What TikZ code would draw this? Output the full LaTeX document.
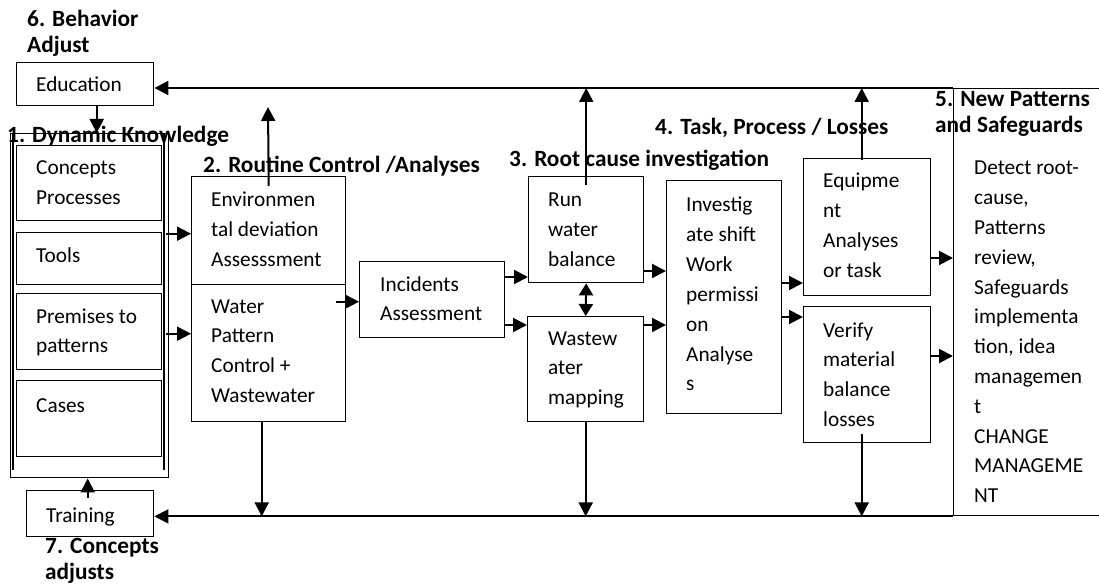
\documentclass[tikz,border=0pt]{standalone}
\usepackage{fontspec}
\setmainfont{Carlito}
\usetikzlibrary{arrows.meta,calc}
\newcommand\mlines[1]{\begin{tabular}[t]{@{}l@{}}#1\end{tabular}}
\tikzset{
 box/.style={draw, line width=1.4pt, inner sep=0pt, anchor=north west},
 txt/.style={inner sep=0pt, anchor=base west, font=\fontsize{21.3}{29.8}\selectfont},
 head/.style={inner sep=0pt, anchor=base west, font=\fontsize{23.3}{26}\selectfont\bfseries},
 arr/.style={line width=2pt, -{Triangle[length=14pt,width=14pt]}},
 arrs/.style={line width=2pt, {Triangle[length=12pt,width=14pt]}-{Triangle[length=12pt,width=14pt]}},
}
\begin{document}
\begin{tikzpicture}[x=1pt,y=-1pt]
\useasboundingbox (0,0) rectangle (1099,585);
% boxes
\node[box, minimum width=137pt, minimum height=43pt] (edu) at (16,62) {};
\node[box, minimum width=158pt, minimum height=344pt] (dk) at (10,133) {};
\draw[line width=1.2pt] (13,133) -- (13,470) (164,133) -- (164,470);
\node[box, minimum width=145pt, minimum height=75pt] (con) at (16,145) {};
\node[box, minimum width=145pt, minimum height=52pt] (tools) at (16,232) {};
\node[box, minimum width=145pt, minimum height=76pt] (prem) at (16,293) {};
\node[box, minimum width=145pt, minimum height=76pt] (cases) at (16,380) {};
\node[box, minimum width=154pt, minimum height=108pt] (env) at (191,176) {};
\node[box, minimum width=154pt, minimum height=137pt] (water) at (191,284) {};
\node[box, minimum width=145pt, minimum height=76pt] (inc) at (359,261) {};
\node[box, minimum width=115pt, minimum height=106pt] (run) at (528,176) {};
\node[box, minimum width=116pt, minimum height=105pt] (ww) at (527,316) {};
\node[box, minimum width=115pt, minimum height=233pt] (inv) at (666,180) {};
\node[box, minimum width=127pt, minimum height=137pt] (eq) at (803,158) {};
\node[box, minimum width=127pt, minimum height=136pt] (ver) at (803,306) {};
\node[box, minimum width=152pt, minimum height=427pt] (np) at (953,88) {};
\node[box, minimum width=127pt, minimum height=46pt] (train) at (26,490) {};
% box texts
\node[txt] (eduT) at (36,92) {Education};
\node[txt] (conT) at (36,175) {\mlines{Concepts\\Processes}};
\node[txt] (toolsT) at (36,262) {Tools};
\node[txt] (premT) at (36,323) {\mlines{Premises to\\patterns}};
\node[txt] (casesT) at (36,412) {Cases};
\node[txt] (envT) at (211,207) {\mlines{Environmen\\tal deviation\\Assesssment}};
\node[txt] (waterT) at (211,313) {\mlines{Water\\Pattern\\Control +\\Wastewater}};
\node[txt] (incT) at (380,291) {\mlines{Incidents\\Assessment}};
\node[txt] (runT) at (548,207) {\mlines{Run\\water\\balance}};
\node[txt] (wwT) at (548,345) {\mlines{Wastew\\ater\\mapping}};
\node[txt] (invT) at (686,212) {\mlines{Investig\\ate shift\\Work\\permissi\\on\\Analyse\\s}};
\node[txt] (eqT) at (823,188) {\mlines{Equipme\\nt\\Analyses\\or task}};
\node[txt] (verT) at (823,337) {\mlines{Verify\\material\\balance\\losses}};
\node[txt] (npT) at (974,175) {\mlines{Detect root-\\cause,\\Patterns\\review,\\Safeguards\\implementa\\tion, idea\\managemen\\t\\CHANGE\\MANAGEME\\NT}};
\node[txt] (trainT) at (46,522) {Training};
% headings
\node[head] (h6) at (27,27) {\mlines{6. Behavior\\Adjust}};
\node[head] (h1) at (7,143) {1. Dynamic Knowledge};
\node[head] (h2) at (203,173) {2. Routine Control /Analyses};
\node[head] (h3) at (509,167) {3. Root cause investigation};
\node[head] (h4) at (655,135) {4. Task, Process / Losses};
\node[head] (h5) at (935,107) {\mlines{5. New Patterns\\and Safeguards}};
\node[head] (h7) at (45,553) {\mlines{7. Concepts\\adjusts}};
% connector points
\coordinate (envtop) at (268,107);
\coordinate (eqx) at ($(eq.north)+(-5.5,2)$);
\coordinate (wx) at ($(water.south)+(-7,0)$);
\coordinate (vx) at ($(ver.south)+(-5.5,-9)$);
\coordinate (ex) at ($(edu.south)+(11.5,0)$);
\coordinate (tx) at ($(train.north)+(-2.5,8)$);
\coordinate (a1) at ($(env.west -| dk.east)+(-3,3)$);
\coordinate (a2) at ($(prem.east -| dk.east)+(-3,2)$);
\coordinate (a3) at ($(inc.west -| water.east)+(-10,2)$);
\coordinate (a4) at ($(inc.north east)+(0,16)$);
\coordinate (a5) at ($(inc.north east)+(0,64)$);
\coordinate (a6) at ($(run.north east)+(0,95)$);
\coordinate (a7) at ($(ww.north east)+(0,9)$);
\coordinate (a8) at ($(inv.north east)+(0,103)$);
\coordinate (a9) at ($(inv.north east)+(0,137)$);
\coordinate (a10) at ($(eq.north east)+(0,100)$);
\coordinate (a11) at ($(ver.north east)+(0,50)$);
% connectors
\draw[arr] (np.north west) -- (np.north west -| edu.east);
\draw[arr] (np.south west) -- (np.south west -| train.east);
\draw[arr] ($(env.north)+(0,10)$) -- (envtop);
\draw[arr] ($(run.north)+(0,9)$) -- (run.north |- np.north west);
\draw[arr] (eqx) -- (eqx |- np.north west);
\draw[arr] (wx) -- (wx |- np.south west);
\draw[arr] (ww.south) -- (ww.south |- np.south west);
\draw[arr] (vx) -- (vx |- np.south west);
\draw[arr] (ex) -- (ex |- dk.north);
\draw[arr] (tx) -- (tx |- dk.south);
\draw[arr] (a1) -- (a1 -| env.west);
\draw[arr] (a2) -- (a2 -| water.west);
\draw[arr] (a3) -- (a3 -| inc.west);
\draw[arr] (a4) -- (a4 -| run.west);
\draw[arr] (a5) -- (a5 -| ww.west);
\draw[arrs] (run.south) -- (ww.north);
\draw[arr] (a6) -- (a6 -| inv.west);
\draw[arr] (a7) -- (a7 -| inv.west);
\draw[arr] (a8) -- (a8 -| eq.west);
\draw[arr] (a9) -- (a9 -| ver.west);
\draw[arr] (a10) -- (a10 -| np.west);
\draw[arr] (a11) -- (a11 -| np.west);
\end{tikzpicture}
\end{document}
